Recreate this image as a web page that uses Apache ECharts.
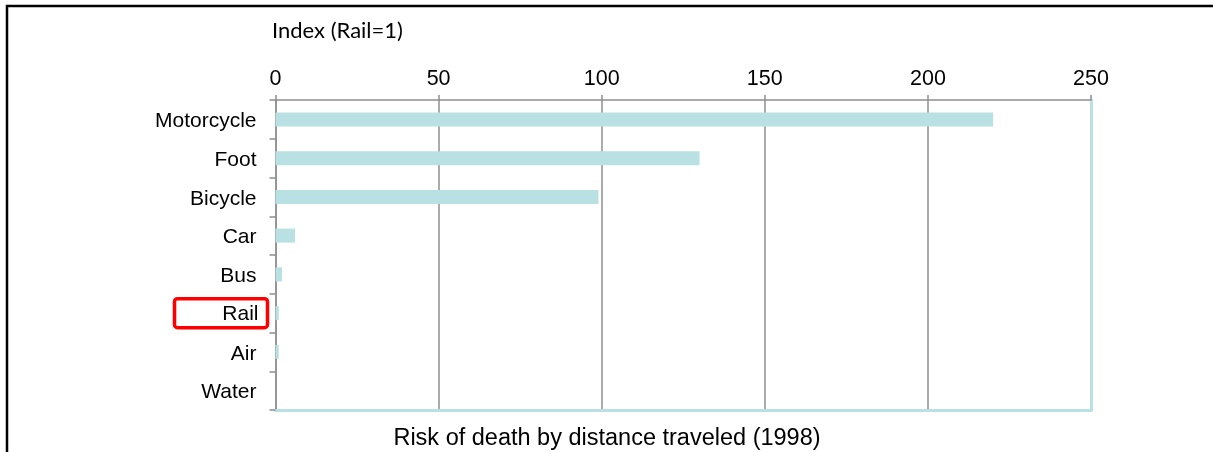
<!DOCTYPE html>
<html>
<head>
<meta charset="utf-8">
<script src="https://cdn.jsdelivr.net/npm/echarts@6/dist/echarts.min.js"></script>
<style>
  html, body { margin: 0; padding: 0; background: #fff; }
  #chart { width: 1213px; height: 452px; }
</style>
</head>
<body>
<div id="chart"></div>
<script>
// Transport modes, top to bottom
const modes = ['Motorcycle', 'Foot', 'Bicycle', 'Car', 'Bus', 'Rail', 'Air', 'Water'];
// Risk of death per distance travelled, indexed to rail = 1
const riskIndex = [220, 130, 99, 6, 2, 1, 1, 0];
const xTicks = [0, 50, 100, 150, 200, 250];
const highlighted = 'Rail';

const barColor = '#b9e0e3';
const axisGray = '#8f8f8f';
const labelFont = 'Liberation Sans, Arial, sans-serif';

const chart = echarts.init(document.getElementById('chart'), null, { renderer: 'canvas' });

chart.setOption({
  animation: false,
  backgroundColor: '#fff',
  grid: { left: 275.5, right: 122, top: 100, bottom: 42, containLabel: false },
  title: {
    text: 'Risk of death by distance traveled (1998)',
    left: 602, top: 422, textAlign: 'center',
    textStyle: { fontFamily: labelFont, fontSize: 23.5, fontWeight: 'normal', color: '#000' }
  },
  xAxis: [{
    type: 'value', position: 'top',
    min: xTicks[0], max: xTicks[xTicks.length - 1], interval: 50,
    axisLine: { show: true, onZero: false, lineStyle: { color: axisGray, width: 1.5 } },
    axisTick: { show: true, length: 5, lineStyle: { color: axisGray, width: 1.5 } },
    axisLabel: { margin: 10, color: '#000', fontFamily: labelFont, fontSize: 21.5 },
    splitLine: { show: true, lineStyle: { color: axisGray, width: 1.5 } }
  }, {
    type: 'value', position: 'bottom',
    min: xTicks[0], max: xTicks[xTicks.length - 1], interval: 50,
    axisLine: { show: true, onZero: false, lineStyle: { color: barColor, width: 3 } },
    axisTick: { show: false }, axisLabel: { show: false }, splitLine: { show: false }
  }],
  yAxis: [{
    type: 'category', inverse: true, data: modes, position: 'left',
    axisLine: { show: true, onZero: false, lineStyle: { color: axisGray, width: 1.5 } },
    axisTick: { show: true, length: 6, inside: false, lineStyle: { color: axisGray, width: 1.5 } },
    axisLabel: {
      margin: 8, color: '#000', fontFamily: labelFont, fontSize: 21,
      formatter: v => v === highlighted ? '{hl|' + v + '}' : '{n|' + v + '}',
      rich: {
        n: { fontFamily: labelFont, fontSize: 21, color: '#000', padding: [6, 11, 2, 0] },
        hl: {
          fontFamily: labelFont, fontSize: 21, color: '#000',
          width: 42, align: 'right',
          padding: [5, 9, 3, 42],
          borderColor: '#ff0000', borderWidth: 3.5, borderRadius: 3
        }
      }
    },
    splitLine: { show: false }
  }, {
    type: 'category', inverse: true, data: modes, position: 'right',
    axisLine: { show: true, onZero: false, lineStyle: { color: barColor, width: 3 } },
    axisTick: { show: false }, axisLabel: { show: false }, splitLine: { show: false }
  }],
  graphic: [
    { type: 'text', left: 272, top: 20,
      style: { text: 'Index (Rail=1)', fontFamily: 'Lato, sans-serif', fontSize: 22, fill: '#000' } },
    { type: 'polyline', silent: true,
      shape: { points: [[7, 452], [7, 6], [1213, 6]] },
      style: { stroke: '#000', lineWidth: 2.5, fill: null } }
  ],
  series: [{
    type: 'bar', xAxisIndex: 0, yAxisIndex: 0,
    data: riskIndex, barWidth: 14,
    itemStyle: { color: barColor },
    z: 3
  }]
});
</script>
</body>
</html>
